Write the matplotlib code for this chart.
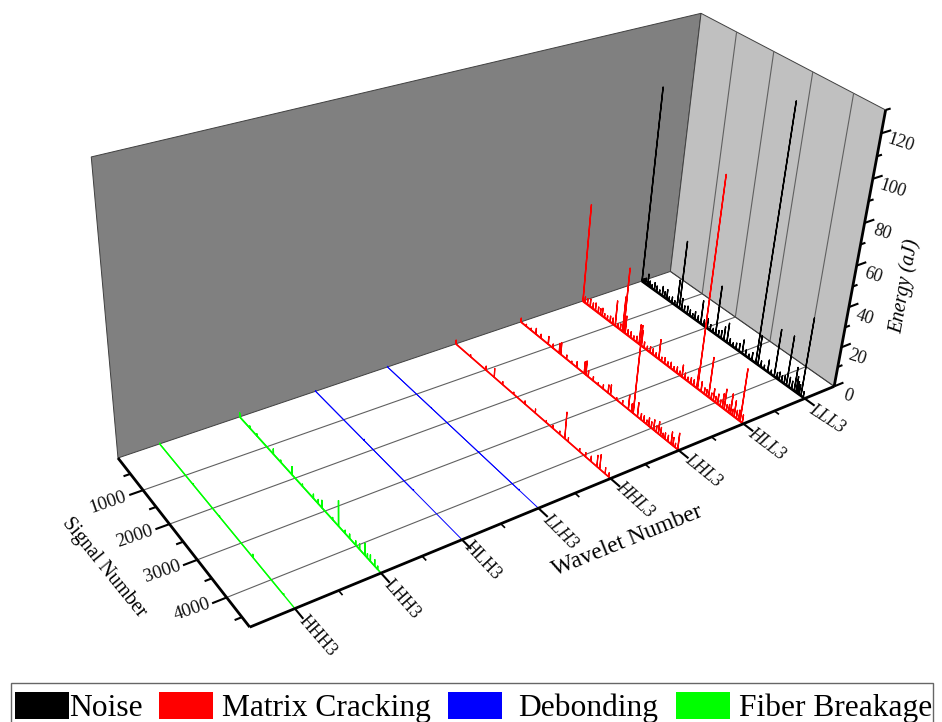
#!/usr/bin/env python3
"""
Wavelet energy per signal, drawn on a hand-made projected 3D box
"""
import numpy as np
import matplotlib
matplotlib.use("Agg")
import matplotlib.pyplot as plt
from matplotlib.patches import Polygon, Rectangle

plt.rcParams['font.family'] = ['Liberation Serif', 'DejaVu Serif']

# Data
wavelets = ["HHH3", "LHH3", "HLH3", "LLH3", "HHL3", "LHL3", "HLL3", "LLL3"]
wavelet_colors = ["#00ff00", "#00ff00", "#0000ff", "#0000ff", "#ff0000", "#ff0000", "#ff0000", "#000000"]
base_widths = [1.0, 1.2, 0.7, 0.7, 1.2, 1.3, 1.6, 1.9]
spike_widths = [0.9, 1.0, 0.7, 0.7, 0.9, 1.0, 1.0, 1.0]

lll3_signal = [5, 60, 120, 190, 250, 320, 400, 470, 560, 650, 720, 790, 860, 950, 1030, 1110, 1180, 1250, 1330, 1420,
               1500, 1580, 1650, 1740, 1830, 1920, 2020, 2110, 2190, 2270, 2350, 2430, 2510, 2600, 2680, 2770, 2860,
               2950, 3040, 3130, 3220, 3310, 3420, 3480, 3560, 3650, 3750, 3840, 3930, 4000, 4060, 4130, 4200, 4260,
               4330, 4400, 4470, 4520, 4560, 4600, 4650, 4710]
lll3_energy = [99, 2, 3, 6, 3, 2, 4, 3, 2, 5, 3, 5, 2, 3, 2, 14, 35, 6, 3, 4, 3, 2, 4, 3, 12, 3, 5, 3, 2, 25, 3, 4, 7,
               10, 3, 2, 3, 4, 7, 3, 2, 4, 125, 15, 3, 2, 6, 2, 24, 3, 4, 3, 4, 25, 5, 4, 12, 8, 6, 5, 39, 3]

hll3_signal = [5, 70, 150, 240, 330, 410, 500, 570, 630, 700, 790, 880, 960, 1040, 1120, 1200, 1270, 1300, 1350, 1430,
               1520, 1610, 1700, 1780, 1850, 1930, 2020, 2110, 2190, 2280, 2370, 2450, 2540, 2630, 2720, 2810, 2900,
               2980, 3050, 3130, 3210, 3300, 3380, 3470, 3490, 3590, 3680, 3740, 3800, 3870, 3930, 3990, 4050, 4120,
               4180, 4230, 4290, 4350, 4400, 4450, 4500, 4560, 4620, 4660, 4720]
hll3_energy = [50, 3, 3, 4, 3, 4, 3, 3, 4, 2, 2, 3, 3, 13, 2, 3, 18, 33, 9, 3, 3, 2, 3, 10, 8, 3, 2, 3, 3, 2, 10, 2, 3,
               2, 3, 2, 3, 2, 6, 3, 2, 3, 3, 10, 102, 5, 3, 3, 20, 3, 6, 3, 5, 3, 7, 10, 3, 4, 10, 3, 8, 4, 5, 26, 4]

lhl3_signal = [5, 180, 340, 500, 660, 900, 1050, 1250, 1300, 1480, 1640, 1800, 2030, 2080, 2150, 2300, 2450, 2600,
               2750, 2820, 3000, 3170, 3340, 3430, 3480, 3600, 3700, 3780, 3860, 3920, 3990, 4060, 4130, 4190, 4250,
               4310, 4370, 4450, 4540, 4590, 4650, 4720]
lhl3_energy = [2, 1, 1, 3, 2, 4, 2, 5, 6, 2, 1, 3, 6, 7, 3, 2, 1, 2, 4, 5, 1, 2, 7, 4, 43, 7, 3, 3, 2, 4, 3, 5, 3, 6,
               4, 2, 3, 3, 6, 4, 2, 8]

hhl3_signal = [5, 500, 1010, 1280, 1550, 1900, 2250, 2570, 2900, 3100, 3300, 3450, 3550, 3880, 4050, 4200, 4370, 4450,
               4600, 4700]
hhl3_energy = [2, 1, 2, 4.5, 1.5, 1, 1.5, 2, 1, 1.5, 1.5, 13, 2, 1.5, 2, 2.5, 5.5, 7, 3, 2]

llh3_signal = [5, 1500, 3000, 4200]
llh3_energy = [0.4, 0.4, 0.4, 0.4]

hlh3_signal = [5, 1700, 3300]
hlh3_energy = [0.4, 0.6, 0.4]

lhh3_signal = [5, 380, 640, 1240, 1500, 1900, 2250, 2620, 2780, 2900, 3250, 3440, 3650, 3790, 3980, 4100, 4260, 4340,
               4430, 4560, 4650]
lhh3_energy = [2, 1, 1, 2.5, 1, 4, 1, 2, 2, 3.5, 1, 12, 1.5, 2, 2, 2.5, 5.5, 2, 3, 3, 1.5]

hhh3_signal = [5, 1300, 2250, 3400, 4400]
hhh3_energy = [0.4, 0.6, 0.5, 1.5, 0.6]

series_signal = [hhh3_signal, lhh3_signal, hlh3_signal, llh3_signal, hhl3_signal, lhl3_signal, hll3_signal, lll3_signal]
series_energy = [hhh3_energy, lhh3_energy, hlh3_energy, llh3_energy, hhl3_energy, lhl3_energy, hll3_energy, lll3_energy]

signal_ticks = [1000, 2000, 3000, 4000]
energy_ticks = [0, 20, 40, 60, 80, 100, 120]
legend_labels = ["Noise", "Matrix Cracking", "Debonding", "Fiber Breakage"]
legend_colors = ["#000000", "#ff0000", "#0000ff", "#00ff00"]

X0, X1 = 0.5, 8.5
S0, S1 = 0, 4750
Z0, Z1 = 0, 130

# Camera: (wavelet, signal, energy) -> picture position, fitted on the box corners and ticks
calibration = [
    (X0, S0, Z0, 118, 459), (X0, S1, Z0, 251, 628), (X1, S1, Z0, 833, 386), (X1, S0, Z0, 671, 272),
    (X0, S0, Z1, 92, 157), (X1, S0, Z1, 702, 12), (X1, S1, Z1, 887, 109),
    (1, S1, 0, 295, 609), (2, S1, 0, 380, 572), (3, S1, 0, 465, 541), (4, S1, 0, 538, 508),
    (5, S1, 0, 610, 478), (6, S1, 0, 678, 450), (7, S1, 0, 743, 422), (8, S1, 0, 805, 398),
    (X0, 1000, 0, 143, 490), (X0, 2000, 0, 169, 524), (X0, 3000, 0, 197, 559), (X0, 4000, 0, 225, 597),
    (X1, S1, 20, 841, 348), (X1, S1, 40, 850, 308), (X1, S1, 60, 858, 267),
    (X1, S1, 80, 865, 223), (X1, S1, 100, 873, 179), (X1, S1, 120, 883, 135),
    (X1, 1000, Z1, 737, 32), (X1, 2000, Z1, 772, 52), (X1, 3000, Z1, 811, 72), (X1, 4000, Z1, 851, 92),
]


def fit_camera(points):
    """Direct linear fit of a 3x4 projection matrix"""
    rows = []
    for x, s, z, u, v in points:
        p = [x / X1, s / S1, z / Z1, 1.0]
        u, v = u / 1000, v / 1000
        rows.append(p + [0, 0, 0, 0] + [-u * c for c in p])
        rows.append([0, 0, 0, 0] + p + [-v * c for c in p])
    _, _, vt = np.linalg.svd(np.array(rows))
    return vt[-1].reshape(3, 4)


CAMERA = fit_camera(calibration)


def project(x, s, z):
    """Map data coordinates to the picture"""
    x, s, z = np.broadcast_arrays(np.asarray(x, float), np.asarray(s, float), np.asarray(z, float))
    p = np.stack([x / X1, s / S1, z / Z1, np.ones_like(x, dtype=float)])
    q = CAMERA @ p.reshape(4, -1)
    return (q[0] / q[2] * 1000).reshape(x.shape), (q[1] / q[2] * 1000).reshape(x.shape)


def line3d(ax, x, s, z, **kw):
    u, v = project(x, s, z)
    ax.plot(u, v, solid_capstyle='butt', **kw)


def face(ax, corners, color):
    u, v = project(*zip(*corners))
    ax.add_patch(Polygon(np.column_stack([u, v]), closed=True, facecolor=color, edgecolor='#404040', linewidth=0.7))


fig = plt.figure(figsize=(9.42, 7.22), dpi=100, facecolor='white')
ax = fig.add_axes([0, 0, 1, 1])
ax.set_xlim(0, 942)
ax.set_ylim(722, 0)
ax.axis('off')

# Walls
face(ax, [(X0, S0, Z0), (X1, S0, Z0), (X1, S0, Z1), (X0, S0, Z1)], '#808080')
face(ax, [(X1, S0, Z0), (X1, S1, Z0), (X1, S1, Z1), (X1, S0, Z1)], '#c0c0c0')

# Grid: across the floor, then up the right wall
for s in signal_ticks:
    line3d(ax, [X0, X1, X1], [s, s, s], [0, 0, Z1], color='#606060', linewidth=0.8)
line3d(ax, [X1, X1], [S0, S1], [0, 0], color='#404040', linewidth=0.7)

# Series, back to front
for i in range(len(wavelets) - 1, -1, -1):
    xpos = i + 1
    line3d(ax, [xpos, xpos], [S0, S1 - 20], [0, 0], color=wavelet_colors[i], linewidth=base_widths[i])
    ss = []
    zz = []
    for s, e in zip(series_signal[i], series_energy[i]):
        ss += [s, s, s]
        zz += [0, e, 0]
    line3d(ax, [xpos] * len(ss), ss, zz, color=wavelet_colors[i], linewidth=spike_widths[i])

# Axis lines
line3d(ax, [X0, X0], [S0, S1], [0, 0], color='black', linewidth=2.0)
line3d(ax, [X0, X1], [S1, S1], [0, 0], color='black', linewidth=2.0)
line3d(ax, [X1, X1], [S1, S1], [0, Z1], color='black', linewidth=2.0)

# Signal ticks
for s in range(500, 4501, 500):
    length = 0.16 if s % 1000 == 0 else 0.08
    line3d(ax, [X0, X0 - length], [s, s], [0, 0], color='black', linewidth=1.5)

signal_offset = (-35, 12)
for s in signal_ticks:
    u, v = project(X0, s, 0)
    ax.text(u + signal_offset[0], v + signal_offset[1], str(s), fontsize=13.7, rotation=19,
            rotation_mode='anchor', ha='center', va='center', color='#111111')

# Wavelet ticks
label_offsets = [(23, 28), (21, 26), (20, 21), (22, 23), (24, 21), (25, 20), (23, 20), (22, 20)]
label_rotations = [-49, -49, -47, -45, -42, -39, -37, -33]
for i, name in enumerate(wavelets):
    xpos = i + 1
    line3d(ax, [xpos, xpos], [S1, S1 + 260], [0, 0], color='black', linewidth=1.5)
    if xpos < 8:
        line3d(ax, [xpos + 0.5, xpos + 0.5], [S1, S1 + 120], [0, 0], color='black', linewidth=1.2)
    u, v = project(xpos, S1, 0)
    ax.text(u + label_offsets[i][0], v + label_offsets[i][1], name, fontsize=13, rotation=label_rotations[i],
            rotation_mode='anchor', ha='center', va='center', style='italic' if i > 2 else 'normal', color='#111111')

# Energy ticks
for z in range(0, 121, 10):
    length = 0.16 if z % 20 == 0 else 0.08
    line3d(ax, [X1, X1 + length], [S1, S1], [z, z], color='black', linewidth=1.5)
line3d(ax, [X1, X1 + 0.08], [S1, S1], [Z1, Z1], color='black', linewidth=1.5)

energy_label_dx = [14, 16, 16, 16, 18, 20, 19]
for z, dx in zip(energy_ticks, energy_label_dx):
    u, v = project(X1, S1, z)
    ax.text(u + dx, v + 10, str(z), fontsize=13, rotation=-18,
            rotation_mode='anchor', ha='center', va='center', color='#111111')

# Axis titles
ax.text(104, 568, "Signal Number", fontsize=14.5, rotation=-51, rotation_mode='anchor', ha='center', va='center')
ax.text(627, 541, "Wavelet Number", fontsize=17, rotation=22, rotation_mode='anchor', ha='center', va='center')
ax.text(905, 286, "Energy (aJ)", fontsize=14.6, style='italic', rotation=80, rotation_mode='anchor',
        ha='center', va='center')

# Legend
ax.add_patch(Rectangle((11, 683), 922, 45, facecolor='white', edgecolor='#666666', linewidth=1.0, zorder=3))
swatch_x = [15, 159, 448, 676]
text_x = [69, 222, 518, 739]
for label, color, sx, tx in zip(legend_labels, legend_colors, swatch_x, text_x):
    ax.add_patch(Rectangle((sx, 692), 54, 27, facecolor=color, edgecolor='none', zorder=4))
    ax.text(tx, 716, label, fontsize=22.7, ha='left', va='baseline', color='black', zorder=4)

fig.savefig("out.png", dpi=100)
plt.close(fig)
